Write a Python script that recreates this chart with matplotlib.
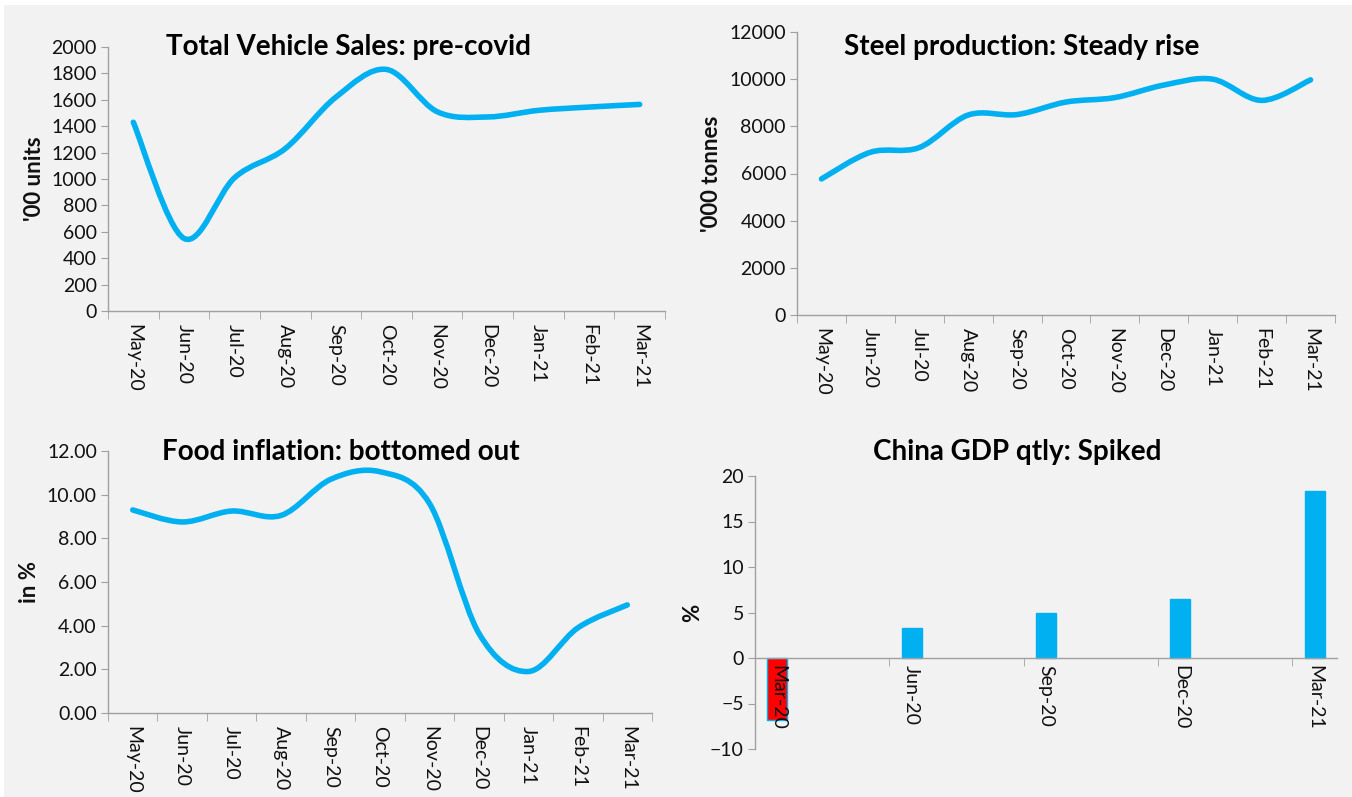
import matplotlib
matplotlib.use("Agg")
import matplotlib.pyplot as plt
from matplotlib.path import Path
from matplotlib.patches import PathPatch, Rectangle

plt.rcParams['font.family'] = ['Lato', 'DejaVu Sans']

# ---- data ----
months = ['May-20', 'Jun-20', 'Jul-20', 'Aug-20', 'Sep-20', 'Oct-20',
          'Nov-20', 'Dec-20', 'Jan-21', 'Feb-21', 'Mar-21']
vehicle_sales = [1430, 550, 1010, 1230, 1620, 1830, 1510, 1470, 1520, 1545, 1565]
steel_prod = [5770, 6900, 7100, 8480, 8500, 9030, 9220, 9750, 10000, 9100, 9970]
food_infl = [9.3, 8.75, 9.25, 9.05, 10.7, 11.05, 9.6, 3.65, 1.9, 3.9, 4.95]

gdp_quarters = ['Mar-20', 'Jun-20', 'Sep-20', 'Dec-20', 'Mar-21']
gdp_month_idx = [0, 3, 6, 9, 12]   # position on the monthly date axis
gdp_growth = [-6.8, 3.3, 5.0, 6.5, 18.4]

BLUE = '#00b0f0'
AXIS = '#a0a0a0'
TXT = '#111111'
W, H = 1352, 797


def smooth_path(xs, ys):
    # excel style smoothed line: bezier segments through every point
    verts = [(xs[0], ys[0])]
    codes = [Path.MOVETO]
    n = len(xs)
    for i in range(n - 1):
        x0, y0 = (xs[i - 1], ys[i - 1]) if i > 0 else (xs[i], ys[i])
        x3, y3 = (xs[i + 2], ys[i + 2]) if i + 2 < n else (xs[i + 1], ys[i + 1])
        c1 = (xs[i] + (xs[i + 1] - x0) / 6, ys[i] + (ys[i + 1] - y0) / 6)
        c2 = (xs[i + 1] - (x3 - xs[i]) / 6, ys[i + 1] - (y3 - ys[i]) / 6)
        verts += [c1, c2, (xs[i + 1], ys[i + 1])]
        codes += [Path.CURVE4] * 3
    return Path(verts, codes)


def px_axes(fig, left, right, top, bottom):
    return fig.add_axes([left / W, 1 - bottom / H, (right - left) / W, (bottom - top) / H])


def style(ax):
    ax.set_facecolor('none')
    for s in ['top', 'right']:
        ax.spines[s].set_visible(False)
    for s in ['left', 'bottom']:
        ax.spines[s].set_color(AXIS)
        ax.spines[s].set_linewidth(1.0)
    ax.tick_params(axis='y', direction='out', length=5, color=AXIS, labelsize=14,
                   labelcolor=TXT, pad=3)


def line_panel(ax, values, yticks):
    style(ax)
    xs = list(range(len(values)))
    ax.add_patch(PathPatch(smooth_path(xs, values), facecolor='none', edgecolor=BLUE,
                           lw=4, capstyle='round', joinstyle='round'))
    ax.set_xlim(-0.5, len(values) - 0.5)
    ax.set_ylim(yticks[0], yticks[-1])
    ax.set_yticks(yticks)
    ax.set_xticks(xs)
    ax.set_xticklabels(months, rotation=270, fontsize=14, color=TXT)
    ax.set_xticks([x - 0.5 for x in range(len(values) + 1)], minor=True)
    ax.tick_params(axis='x', which='major', length=0, pad=9)
    ax.tick_params(axis='x', which='minor', direction='out', length=6, color=AXIS)


def title(x, y, s):
    fig.text(x / W, 1 - y / H, s, ha='center', va='center',
             fontsize=20, fontweight='bold', color='black')


fig = plt.figure(figsize=(W / 100, H / 100), dpi=100)
fig.patch.set_facecolor('white')
fig.add_artist(Rectangle((4 / W, 0), 1, (H - 5) / H, transform=fig.transFigure,
                         facecolor='#f2f2f2', edgecolor='none', zorder=-10))

# ---- Total vehicle sales ----
ax1 = px_axes(fig, 108, 665, 47, 311)
line_panel(ax1, vehicle_sales, list(range(0, 2001, 200)))
ax1.set_ylabel("'00 units", fontsize=16, fontweight='bold', color=TXT, labelpad=5)
title(348, 47, 'Total Vehicle Sales: pre-covid')

# ---- Steel production ----
ax2 = px_axes(fig, 797, 1335, 32, 315)
line_panel(ax2, steel_prod, list(range(0, 12001, 2000)))
ax2.set_ylabel("'000 tonnes", fontsize=16, fontweight='bold', color=TXT, labelpad=5)
title(1022, 47, 'Steel production: Steady rise')

# ---- Food inflation ----
ax3 = px_axes(fig, 108, 652, 451, 713)
line_panel(ax3, food_infl, [0, 2, 4, 6, 8, 10, 12])
ax3.set_yticklabels(['%.2f' % v for v in [0, 2, 4, 6, 8, 10, 12]])
ax3.set_ylabel('in %', fontsize=16, fontweight='bold', color=TXT, labelpad=5)
title(341, 452, 'Food inflation: bottomed out')

# ---- China GDP ----
ax4 = px_axes(fig, 755, 1337, 476, 749)
style(ax4)
ax4.spines['bottom'].set_position(('data', 0))
bar_colors = ['red' if v < 0 else BLUE for v in gdp_growth]
ax4.bar(gdp_month_idx, gdp_growth, width=0.45, color=bar_colors, edgecolor=BLUE, linewidth=1)
ax4.set_xlim(-0.5, 12.5)
ax4.set_ylim(-10, 20)
ax4.set_yticks(range(-10, 21, 5))
ax4.set_xticks(gdp_month_idx)
ax4.set_xticklabels(gdp_quarters, rotation=270, fontsize=14, color=TXT)
ax4.set_xticks([2.5, 5.5, 8.5, 11.5], minor=True)
ax4.tick_params(axis='x', which='major', length=0, pad=5)
ax4.tick_params(axis='x', which='minor', direction='out', length=6, color=AXIS)
ax4.set_ylabel('%', fontsize=16, fontweight='bold', color=TXT, labelpad=5)
title(1017, 452, 'China GDP qtly: Spiked')

fig.savefig('out.png', dpi=100, facecolor=fig.get_facecolor())
